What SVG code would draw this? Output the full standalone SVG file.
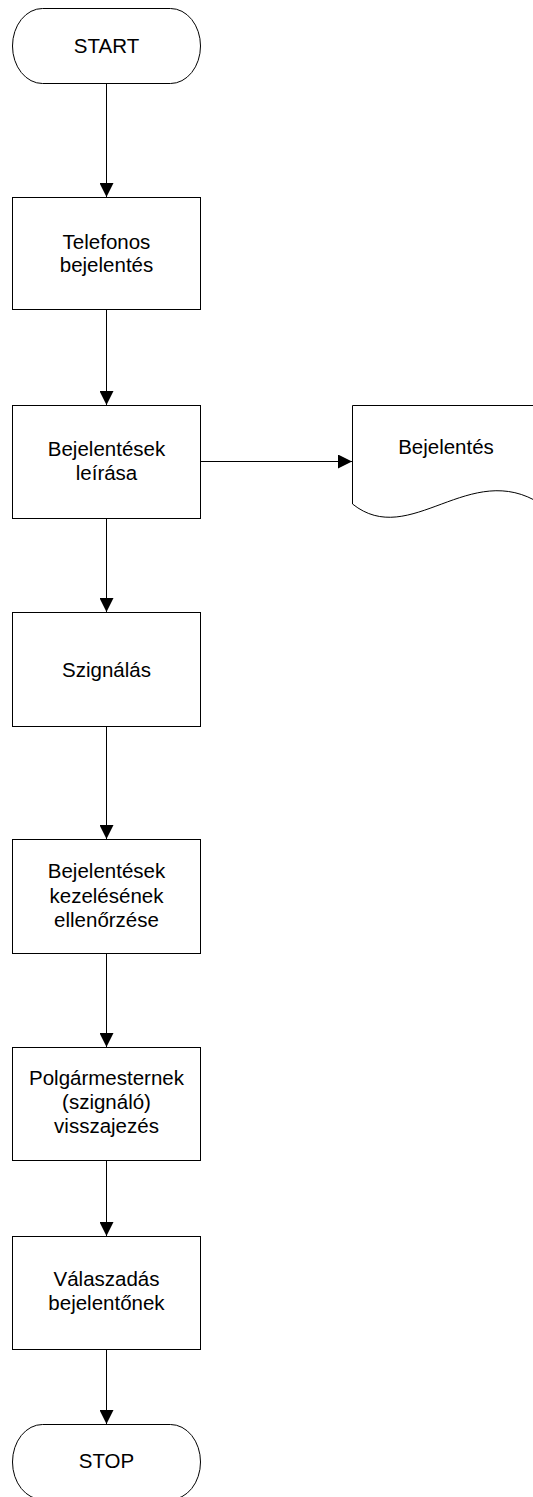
<svg xmlns="http://www.w3.org/2000/svg" width="533" height="1497" viewBox="0 0 533 1497">
  <style>
    .shape { fill: #ffffff; stroke: #000000; stroke-width: 1; }
    .flow { fill: none; stroke: #000000; stroke-width: 1; }
    .label { font-family: "Liberation Sans", Arial, sans-serif; font-size: 20.5px; fill: #000000; text-anchor: middle; }
  </style>
  <defs>
    <marker id="arrow" markerUnits="userSpaceOnUse" markerWidth="14" markerHeight="14" viewBox="0 0 14 14" refX="14" refY="7" orient="auto">
      <path d="M0,0 L14,7 L0,14 Z" fill="#000000"/>
    </marker>
  </defs>
  <rect width="533" height="1497" fill="#ffffff"/>

  <!-- connectors -->
  <g id="connectors">
    <line class="flow" x1="106.5" y1="83" x2="106.5" y2="197" marker-end="url(#arrow)"/>
    <line class="flow" x1="106.5" y1="309" x2="106.5" y2="405" marker-end="url(#arrow)"/>
    <line class="flow" x1="200.5" y1="461.5" x2="352" y2="461.5" marker-end="url(#arrow)"/>
    <line class="flow" x1="106.5" y1="518" x2="106.5" y2="612" marker-end="url(#arrow)"/>
    <line class="flow" x1="106.5" y1="726" x2="106.5" y2="839" marker-end="url(#arrow)"/>
    <line class="flow" x1="106.5" y1="953" x2="106.5" y2="1047" marker-end="url(#arrow)"/>
    <line class="flow" x1="106.5" y1="1160" x2="106.5" y2="1236" marker-end="url(#arrow)"/>
    <line class="flow" x1="106.5" y1="1349" x2="106.5" y2="1424" marker-end="url(#arrow)"/>
  </g>

  <!-- start terminal -->
  <g id="start">
    <rect class="shape" x="12.5" y="8.5" width="188" height="75" rx="30" ry="37.5"/>
    <text class="label" x="106.5" y="53">START</text>
  </g>

  <g id="telefonos-bejelentes">
    <rect class="shape" x="12.5" y="197.5" width="188" height="112"/>
    <text class="label" x="106.5" y="249">Telefonos</text>
    <text class="label" x="106.5" y="272">bejelentés</text>
  </g>

  <g id="bejelentesek-leirasa">
    <rect class="shape" x="12.5" y="405.5" width="188" height="113"/>
    <text class="label" x="106.5" y="456">Bejelentések</text>
    <text class="label" x="106.5" y="480">leírása</text>
  </g>

  <!-- document shape, runs past the right edge -->
  <g id="bejelentes-dokumentum">
    <path class="shape" d="M352.5,504 L352.5,405.5 L541,405.5 L541,504 C470,458 410,550 352.5,504 Z"/>
    <text class="label" x="446" y="454">Bejelentés</text>
  </g>

  <g id="szignalas">
    <rect class="shape" x="12.5" y="612.5" width="188" height="114"/>
    <text class="label" x="106.5" y="677">Szignálás</text>
  </g>

  <g id="kezeles-ellenorzese">
    <rect class="shape" x="12.5" y="839.5" width="188" height="114"/>
    <text class="label" x="106.5" y="878">Bejelentések</text>
    <text class="label" x="106.5" y="902.5">kezelésének</text>
    <text class="label" x="106.5" y="926.5">ellenőrzése</text>
  </g>

  <g id="polgarmesternek-visszajezes">
    <rect class="shape" x="12.5" y="1047.5" width="188" height="113"/>
    <text class="label" x="106.5" y="1085">Polgármesternek</text>
    <text class="label" x="106.5" y="1109">(szignáló)</text>
    <text class="label" x="106.5" y="1133">visszajezés</text>
  </g>

  <g id="valaszadas">
    <rect class="shape" x="12.5" y="1236.5" width="188" height="113"/>
    <text class="label" x="106.5" y="1286">Válaszadás</text>
    <text class="label" x="106.5" y="1310">bejelentőnek</text>
  </g>

  <!-- stop terminal -->
  <g id="stop">
    <rect class="shape" x="12.5" y="1424.5" width="188" height="75" rx="30" ry="37.5"/>
    <text class="label" x="106.5" y="1468">STOP</text>
  </g>
</svg>
